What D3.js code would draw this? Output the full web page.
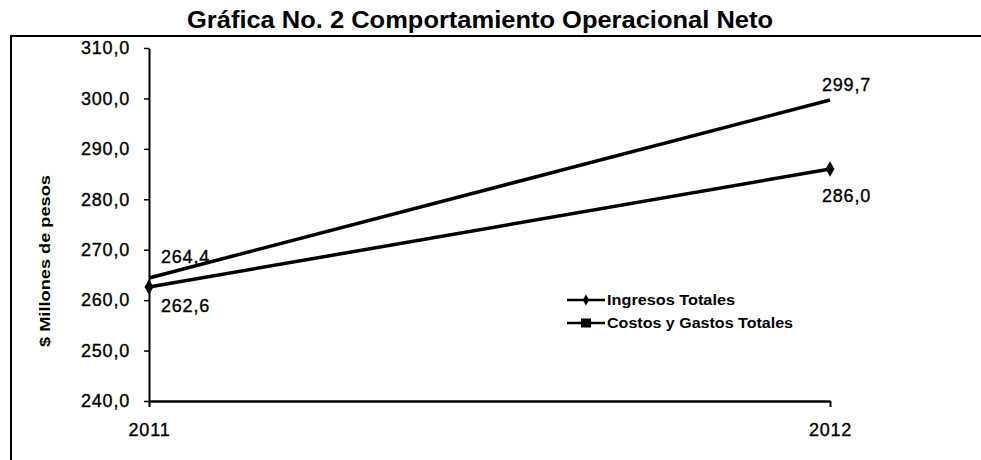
<!DOCTYPE html>
<html>
<head>
<meta charset="utf-8">
<script src="https://cdn.jsdelivr.net/npm/d3@7"></script>
<style>
  body { margin: 0; background: #fff; }
  svg { display: block; font-family: Arial, "Liberation Sans", sans-serif; }
</style>
</head>
<body>
<svg id="chart"></svg>
<script>
const width = 981;
const height = 460;

// data
const years = ["2011", "2012"];
const ingresos = [262.6, 286.0];
const costos = [264.4, 299.7];
const yTicks = [240, 250, 260, 270, 280, 290, 300, 310];
const seriesNames = ["Ingresos Totales", "Costos y Gastos Totales"];

const fmt = d => d.toFixed(1).replace(".", ",");
const numFont = 18;

var svg = d3.select("#chart").attr("width", width).attr("height", height);

var xScale = d3.scalePoint().domain(years).range([149, 830]);
var yScale = d3.scaleLinear().domain([240, 310]).range([401, 48]);

// frame
svg.append("path")
  .attr("d", "M11,460V36H981")
  .attr("fill", "none")
  .attr("stroke", "#000")
  .attr("stroke-width", 2);

// title
svg.append("text")
  .attr("x", 480)
  .attr("y", 28)
  .attr("text-anchor", "middle")
  .attr("font-size", 24)
  .attr("font-weight", "bold")
  .attr("textLength", 586)
  .attr("lengthAdjust", "spacingAndGlyphs")
  .text("Gráfica No. 2 Comportamiento Operacional Neto");

// heavier look of the scanned numbers
function numStyle(sel) {
  sel.attr("font-size", numFont)
    .attr("letter-spacing", 0.8)
    .attr("fill", "#000")
    .attr("stroke", "#000")
    .attr("stroke-width", 0.35)
    .attr("font-family", "Arial, 'Liberation Sans', sans-serif");
}

// y axis
var yAxis = svg.append("g")
  .attr("transform", "translate(149,0)")
  .call(d3.axisLeft(yScale).tickValues(yTicks).tickSize(5).tickSizeOuter(0).tickPadding(14).tickFormat(fmt));
yAxis.select(".domain").attr("stroke-width", 2);
yAxis.selectAll(".tick line").attr("stroke-width", 1.5);
yAxis.selectAll("text").call(numStyle);

// x axis
var xAxis = svg.append("g")
  .attr("transform", "translate(0,401)")
  .call(d3.axisBottom(xScale).tickSize(6).tickSizeOuter(0).tickPadding(16));
xAxis.select(".domain").attr("stroke-width", 2.5);
xAxis.selectAll(".tick line").attr("stroke-width", 2);
xAxis.selectAll("text").call(numStyle);

// y axis title
svg.append("text")
  .attr("transform", "translate(50,261) rotate(-90)")
  .attr("text-anchor", "middle")
  .attr("font-size", 15)
  .attr("font-weight", "bold")
  .attr("textLength", 172)
  .attr("lengthAdjust", "spacingAndGlyphs")
  .text("$ Millones de pesos");

// lines
var line = d3.line().x((d, i) => xScale(years[i])).y(d => yScale(d));
var series = [ingresos, costos];

svg.selectAll("path.serie")
  .data(series)
  .enter()
  .append("path")
  .attr("class", "serie")
  .attr("d", d => line(d))
  .attr("fill", "none")
  .attr("stroke", "#000")
  .attr("stroke-width", 3.5);

// diamond markers for ingresos
var diamond = d3.symbol().type(d3.symbolDiamond).size(70);
svg.selectAll("path.mark")
  .data(ingresos)
  .enter()
  .append("path")
  .attr("class", "mark")
  .attr("d", diamond)
  .attr("transform", (d, i) => `translate(${xScale(years[i])},${yScale(d)})`);

// data labels
var labelDy = [[19, 27], [-21, -15]];
var labelDx = [12, -8];
series.forEach((s, k) => {
  svg.selectAll(null)
    .data(s)
    .enter()
    .append("text")
    .attr("x", (d, i) => xScale(years[i]) + labelDx[i])
    .attr("y", (d, i) => yScale(d) + labelDy[k][i])
    .attr("dy", "0.35em")
    .call(numStyle)
    .text(fmt);
});

// legend
var legend = svg.append("g").attr("transform", "translate(567,300)");
seriesNames.forEach((name, i) => {
  var g = legend.append("g").attr("transform", `translate(0,${i * 23})`);
  g.append("line").attr("x1", 0).attr("x2", 38).attr("stroke", "#000").attr("stroke-width", 2.5);
  if (i == 0) {
    g.append("path").attr("d", d3.symbol().type(d3.symbolDiamond).size(35)).attr("transform", "translate(19,0)");
  } else {
    g.append("rect").attr("x", 14).attr("y", -4.5).attr("width", 10).attr("height", 9);
  }
  g.append("text")
    .attr("x", 40)
    .attr("dy", "0.35em")
    .attr("font-size", 14)
    .attr("font-weight", "bold")
    .attr("textLength", i == 0 ? 128 : 186)
    .attr("lengthAdjust", "spacingAndGlyphs")
    .text(name);
});
</script>
</body>
</html>
